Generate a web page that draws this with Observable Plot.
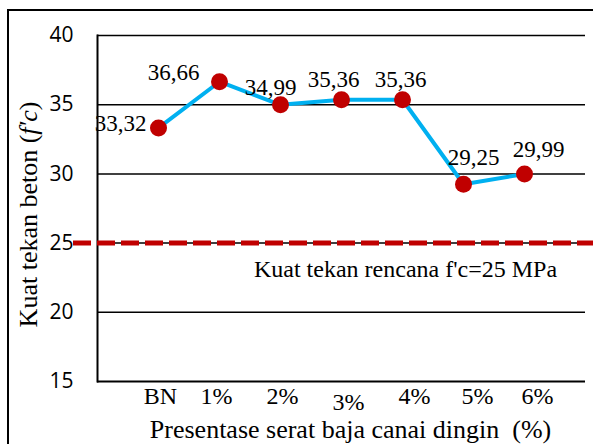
<!DOCTYPE html>
<html>
<head>
<meta charset="utf-8">
<script src="https://cdn.jsdelivr.net/npm/d3@7"></script>
<script src="https://cdn.jsdelivr.net/npm/@observablehq/plot@0.6"></script>
<style>
  html, body { margin: 0; padding: 0; background: #fff; overflow: hidden; }
  #wrap { position: relative; width: 593px; height: 444px; overflow: hidden; }
  #frame { position: absolute; left: 7px; top: 9px; width: 620px; height: 500px; border: 2px solid #000; box-sizing: border-box; pointer-events: none; }
  #chart { position: absolute; left: 0; top: 0; }
</style>
</head>
<body>
<div id="wrap"><div id="chart"></div><div id="frame"></div></div>
<script>
// ---- data ----
const categories = ["BN", "1%", "2%", "3%", "4%", "5%", "6%"];
const strength = [33.32, 36.66, 34.99, 35.36, 35.36, 29.25, 29.99];
const valueLabels = ["33,32", "36,66", "34,99", "35,36", "35,36", "29,25", "29,99"];
const yTicks = [15, 20, 25, 30, 35, 40];
const designStrength = 25;
const designLabel = "Kuat tekan rencana f'c=25 MPa";
const xTitle = "Presentase serat baja canai dingin  (%)";

// ---- styling / placement ----
const labelDx = [-38, -46, -10, -8, -2, 10, 14];
const labelDy = [-4, -9, -17, -20, -20, -27, -24];
const tickDx = [2, -3, 2, 7, 12, 14, 13];
const tickDy = [15, 15, 15, 21, 15, 15, 15];
const serif = "'Liberation Serif', 'Times New Roman', serif";
const sans = "'Open Sans', 'Noto Sans', sans-serif";

const rows = categories.map((c, i) => ({cat: c, value: strength[i], label: valueLabels[i]}));

const plot = Plot.plot({
  width: 593,
  height: 444,
  marginLeft: 97,
  marginRight: 8,
  marginTop: 35,
  marginBottom: 63,
  x: {type: "point", domain: categories, padding: 1, axis: null},
  y: {domain: [15, 40], axis: null},
  marks: [
    Plot.ruleY(yTicks.filter(t => t > 15), {stroke: "#000", strokeWidth: 1.5}),
    Plot.ruleY([15], {stroke: "#000", strokeWidth: 2}),
    Plot.frame({anchor: "left", stroke: "#000", strokeWidth: 2}),
    Plot.axisY({ticks: yTicks, tickSize: 0, tickPadding: 24, label: null, fontSize: 21, fontFamily: sans, fill: "#000"}),
    Plot.ruleY([designStrength], {stroke: "#C00000", strokeWidth: 5, strokeDasharray: "18,6", insetLeft: -24, insetRight: -8}),
    Plot.text([designLabel], {frameAnchor: "left", textAnchor: "middle", y: () => designStrength, text: d => d, dx: 308, dy: 26, fontSize: 24, fontFamily: serif, fill: "#000"}),
    Plot.line(rows, {x: "cat", y: "value", stroke: "#00B0F0", strokeWidth: 4}),
    Plot.dot(rows, {x: "cat", y: "value", r: 8.5, fill: "#C00000", stroke: "none"}),
    ...rows.map((r, i) => Plot.text([r], {x: "cat", y: "value", text: "label", dx: labelDx[i], dy: labelDy[i], fontSize: 23, fontFamily: serif, fill: "#000"})),
    ...categories.map((c, i) => Plot.text([c], {x: d => d, y: () => 15, text: d => d, dx: tickDx[i], dy: tickDy[i], fontSize: 24, fontFamily: serif, fill: "#000"})),
    Plot.text([xTitle], {frameAnchor: "bottom", textAnchor: "middle", text: d => d, dx: 9, dy: 56, fontSize: 26, fontFamily: serif, fill: "#000"}),
    Plot.text(["ytitle"], {frameAnchor: "left", textAnchor: "middle", text: () => "Kuat tekan beton (f'c)", rotate: -90, dx: -69, dy: 6, fontSize: 26, fontFamily: serif, fill: "#000", className: "ytitle"})
  ]
});

document.getElementById("chart").appendChild(plot);

// mixed-style y title: "(f'c)" italic
const yt = d3.select(plot).select("g.ytitle text");
if (!yt.empty()) {
  yt.text(null);
  yt.append("tspan").text("Kuat tekan beton (");
  yt.append("tspan").attr("font-style", "italic").text("f'c");
  yt.append("tspan").text(")");
}
</script>
</body>
</html>
